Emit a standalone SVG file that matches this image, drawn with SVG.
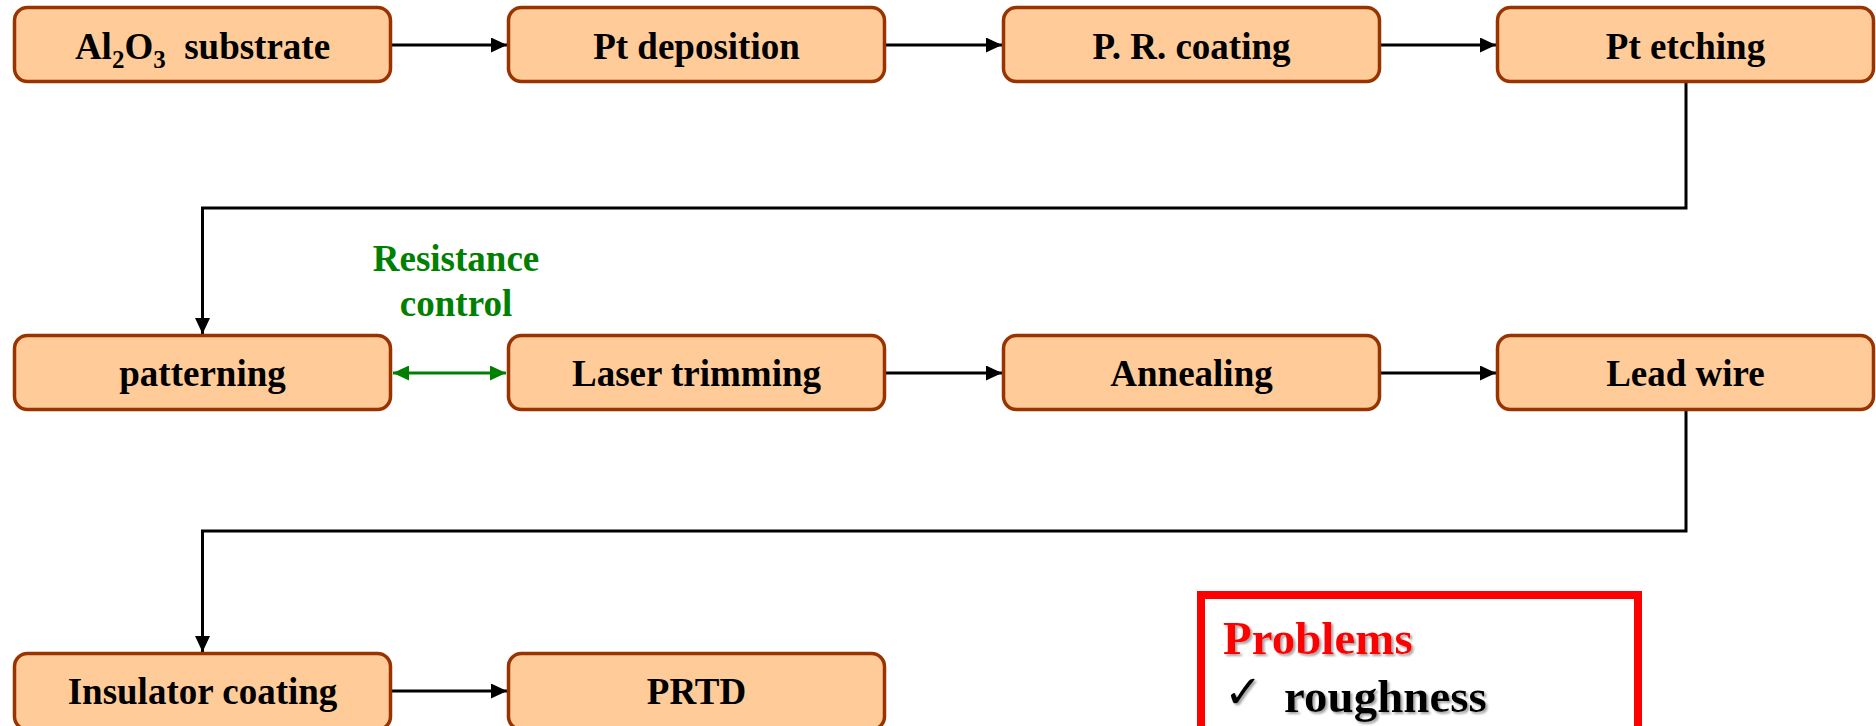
<svg xmlns="http://www.w3.org/2000/svg" width="1876" height="726" viewBox="0 0 1876 726">
<defs>
<style>
.box{fill:#FFCC99;stroke:#993300;stroke-width:3.5}
.lbl{font-family:"Liberation Serif","Times New Roman",serif;font-weight:bold;font-size:37px;fill:#000;text-anchor:middle}
.con{fill:none;stroke:#000;stroke-width:3}
.grn{fill:none;stroke:#008000;stroke-width:3}
.note{font-family:"Liberation Serif","Times New Roman",serif;font-weight:bold;font-size:47px}
</style>
<marker id="ah" viewBox="0 0 16 15" refX="16" refY="7.5" markerWidth="16" markerHeight="15" markerUnits="userSpaceOnUse" orient="auto">
<path d="M0,0 L16,7.5 L0,15 z" fill="#000"/>
</marker>
<marker id="ahg" viewBox="0 0 16 15" refX="16" refY="7.5" markerWidth="16" markerHeight="15" markerUnits="userSpaceOnUse" orient="auto-start-reverse">
<path d="M0,0 L16,7.5 L0,15 z" fill="#008000"/>
</marker>
<filter id="shadow" x="-10%" y="-10%" width="130%" height="140%">
<feDropShadow dx="2" dy="2" stdDeviation="0.8" flood-color="#999999" flood-opacity="0.9"/>
</filter>
</defs>
<rect width="1876" height="726" fill="#ffffff"/>

<g id="connectors">
<line class="con" x1="392" y1="45" x2="507" y2="45" marker-end="url(#ah)"/>
<line class="con" x1="886" y1="45" x2="1002" y2="45" marker-end="url(#ah)"/>
<line class="con" x1="1381" y1="45" x2="1496" y2="45" marker-end="url(#ah)"/>
<polyline class="con" points="1686,83 1686,208 202.5,208 202.5,334" marker-end="url(#ah)"/>
<line class="grn" x1="393" y1="373" x2="506" y2="373" marker-start="url(#ahg)" marker-end="url(#ahg)"/>
<line class="con" x1="886" y1="373" x2="1002" y2="373" marker-end="url(#ah)"/>
<line class="con" x1="1381" y1="373" x2="1496" y2="373" marker-end="url(#ah)"/>
<polyline class="con" points="1686,411 1686,531 202.5,531 202.5,652" marker-end="url(#ah)"/>
<line class="con" x1="392" y1="691" x2="507" y2="691" marker-end="url(#ah)"/>
</g>

<g id="label-resistance">
<text font-family="Liberation Serif, Times New Roman, serif" font-weight="bold" font-size="37" fill="#008000" text-anchor="middle"><tspan x="456" y="271">Resistance</tspan><tspan x="456" y="316">control</tspan></text>
</g>

<g id="n1"><rect class="box" x="14.5" y="7.5" width="376" height="74" rx="13"/>
<text class="lbl" x="202.5" y="59">Al<tspan font-size="25" dy="9">2</tspan><tspan dy="-9">O</tspan><tspan font-size="25" dy="9">3</tspan><tspan dy="-9" xml:space="preserve">  substrate</tspan></text></g>
<g id="n2"><rect class="box" x="508.5" y="7.5" width="376" height="74" rx="13"/><text class="lbl" x="696.5" y="59">Pt deposition</text></g>
<g id="n3"><rect class="box" x="1003.5" y="7.5" width="376" height="74" rx="13"/><text class="lbl" x="1191.5" y="59">P. R. coating</text></g>
<g id="n4"><rect class="box" x="1497.5" y="7.5" width="376" height="74" rx="13"/><text class="lbl" x="1685.5" y="59">Pt etching</text></g>

<g id="n5"><rect class="box" x="14.5" y="335.5" width="376" height="74" rx="13"/><text class="lbl" x="202.5" y="386">patterning</text></g>
<g id="n6"><rect class="box" x="508.5" y="335.5" width="376" height="74" rx="13"/><text class="lbl" x="696.5" y="386">Laser trimming</text></g>
<g id="n7"><rect class="box" x="1003.5" y="335.5" width="376" height="74" rx="13"/><text class="lbl" x="1191.5" y="386">Annealing</text></g>
<g id="n8"><rect class="box" x="1497.5" y="335.5" width="376" height="74" rx="13"/><text class="lbl" x="1685.5" y="386">Lead wire</text></g>

<g id="n9"><rect class="box" x="14.5" y="653.5" width="376" height="76" rx="13"/><text class="lbl" x="202.5" y="704">Insulator coating</text></g>
<g id="n10"><rect class="box" x="508.5" y="653.5" width="376" height="76" rx="13"/><text class="lbl" x="696.5" y="704">PRTD</text></g>

<g id="problems">
<rect x="1201" y="595" width="437" height="150" fill="none" stroke="#ff0000" stroke-width="8"/>
<text class="note" x="1223" y="654" fill="#ff0000" filter="url(#shadow)">Problems</text>
<text x="1224" y="708" font-family="DejaVu Sans, sans-serif" font-size="46" fill="#000" filter="url(#shadow)">✓</text>
<text class="note" x="1284" y="712" fill="#000" filter="url(#shadow)">roughness</text>
</g>
</svg>
